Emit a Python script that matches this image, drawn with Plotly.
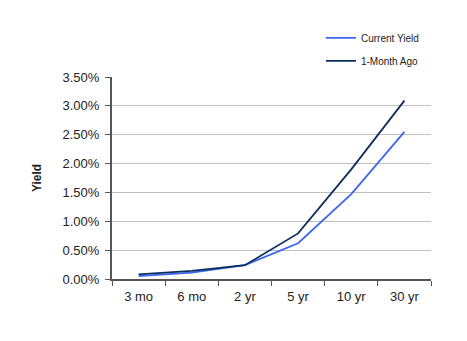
import plotly.graph_objects as go

categories = ["3 mo", "6 mo", "2 yr", "5 yr", "10 yr", "30 yr"]
current_yield = [0.05, 0.11, 0.24, 0.62, 1.47, 2.55]
month_ago = [0.08, 0.14, 0.24, 0.79, 1.90, 3.09]
y_ticks = [0.0, 0.5, 1.0, 1.5, 2.0, 2.5, 3.0, 3.5]
y_tick_labels = [f"{v:.2f}%" for v in y_ticks]

fig = go.Figure()
fig.add_trace(go.Scatter(x=categories, y=current_yield, mode="lines", name="Current Yield",
                         legendgroup="a", line=dict(color="#3a66f0", width=1.8)))
fig.add_trace(go.Scatter(x=categories, y=month_ago, mode="lines", name="1-Month Ago",
                         legendgroup="b", line=dict(color="#0b2f5c", width=1.8)))

fig.update_layout(
    width=467, height=341,
    margin=dict(l=112, r=36, t=77, b=62, autoexpand=False),
    paper_bgcolor="white", plot_bgcolor="white",
    font=dict(family="Liberation Sans, Arial", size=12, color="#222"),
    legend=dict(x=0.655, y=1.265, xanchor="left", yanchor="top",
                font=dict(size=10, color="#222"), bgcolor="rgba(0,0,0,0)",
                tracegroupgap=4, itemwidth=30),
    showlegend=True,
)
fig.update_xaxes(type="category", tickson="boundaries", ticks="outside", ticklen=5,
                 tickcolor="#555", showline=True, linecolor="#555", linewidth=2,
                 showgrid=False, range=[-0.5, 5.5], ticklabelstandoff=4,
                 tickfont=dict(size=13, color="#222"))
fig.update_yaxes(range=[0, 3.5], tickvals=y_ticks, ticktext=y_tick_labels,
                 ticks="outside", ticklen=5, tickcolor="#555", showline=True,
                 linecolor="#555", linewidth=2, showgrid=True, gridcolor="#c0c0c0",
                 gridwidth=1, zeroline=False, ticklabelstandoff=3,
                 tickfont=dict(size=13, color="#222"),
                 title=dict(text="<b>Yield</b>", font=dict(size=12, color="#222"), standoff=18))

fig.write_html("out.html")
